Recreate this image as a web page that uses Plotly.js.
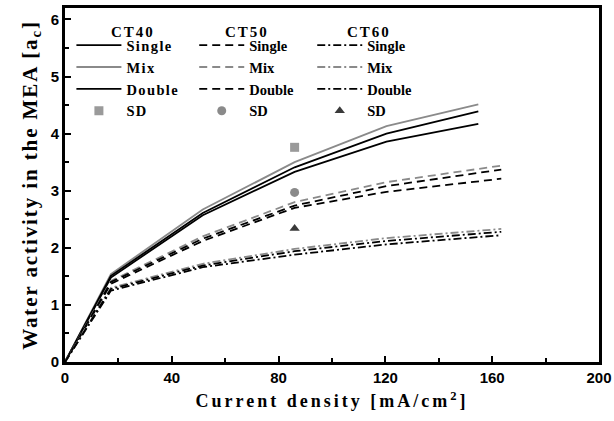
<!DOCTYPE html>
<html>
<head>
<meta charset="utf-8">
<script src="https://cdn.plot.ly/plotly-3.0.1.min.js"></script>
<style>
html, body { margin: 0; padding: 0; background: #fff; }
#chart { width: 614px; height: 421px; }
.xtitle { letter-spacing: 3px; }
.ytitle { letter-spacing: 1.9px; }
.legendtext { letter-spacing: 1.4px; }
.annotation-text { letter-spacing: 2px; }
</style>
</head>
<body>
<div id="chart"></div>
<script>
// Current density [mA/cm2]
var x40 = [0, 17.2, 51.6, 86, 120.4, 154.8];
var x50 = [0, 17.2, 51.6, 86, 120.4, 163.4];
var x60 = [0, 17.2, 51.6, 86, 120.4, 163.4];

// CT40 (solid)
var ct40Single = [0, 1.48, 2.57, 3.33, 3.86, 4.17];
var ct40Mix    = [0, 1.54, 2.67, 3.50, 4.13, 4.51];
var ct40Double = [0, 1.51, 2.61, 3.41, 4.00, 4.39];
// CT50 (dash)
var ct50Single = [0, 1.37, 2.12, 2.70, 2.98, 3.21];
var ct50Mix    = [0, 1.42, 2.20, 2.80, 3.15, 3.44];
var ct50Double = [0, 1.40, 2.16, 2.74, 3.08, 3.37];
// CT60 (dash-dot)
var ct60Single = [0, 1.25, 1.66, 1.88, 2.06, 2.22];
var ct60Mix    = [0, 1.30, 1.72, 1.98, 2.17, 2.33];
var ct60Double = [0, 1.28, 1.69, 1.94, 2.12, 2.28];

// SD points
var sdX = [86];
var sd40 = [3.76];
var sd50 = [2.97];
var sd60 = [2.34];

var headers = ['CT40', 'CT50', 'CT60'];
var xTicks = [0, 40, 80, 120, 160, 200];
var yTicks = [0, 1, 2, 3, 4, 5, 6];

var BLACK = '#000000', GREY = '#8a8a8a';
var DASH = '8px,5px', DASHDOT = '8px,3px,2px,3px';

function line(x, y, name, color, dash, legend) {
  return {x: x, y: y, name: name, mode: 'lines', type: 'scatter', legend: legend,
          line: {color: color, width: 1.8, dash: dash}, hoverinfo: 'skip'};
}
function sd(y, symbol, color, legend) {
  return {x: sdX, y: y, name: 'SD', mode: 'markers', type: 'scatter', legend: legend,
          marker: {symbol: symbol, size: 9, color: color}, hoverinfo: 'skip'};
}

var data = [
  line(x40, ct40Single, 'Single', BLACK, 'solid', 'legend'),
  line(x40, ct40Mix, 'Mix', GREY, 'solid', 'legend'),
  line(x40, ct40Double, 'Double', BLACK, 'solid', 'legend'),
  sd(sd40, 'square', '#9a9a9a', 'legend'),
  line(x50, ct50Single, 'Single', BLACK, DASH, 'legend2'),
  line(x50, ct50Mix, 'Mix', GREY, DASH, 'legend2'),
  line(x50, ct50Double, 'Double', BLACK, DASH, 'legend2'),
  sd(sd50, 'circle', '#8a8a8a', 'legend2'),
  line(x60, ct60Single, 'Single', BLACK, DASHDOT, 'legend3'),
  line(x60, ct60Mix, 'Mix', GREY, DASHDOT, 'legend3'),
  line(x60, ct60Double, 'Double', BLACK, DASHDOT, 'legend3'),
  sd(sd60, 'triangle-up', '#3a3a3a', 'legend3')
];

var legFont = {family: 'Liberation Serif, Times New Roman, serif', size: 14.5, weight: 'bold', color: '#000'};
function leg(x) {
  return {x: x, y: 0.94, xanchor: 'left', yanchor: 'top', bgcolor: 'rgba(0,0,0,0)',
          font: legFont, itemwidth: 45, tracegroupgap: 0, orientation: 'v'};
}

var headerX = [0.127, 0.341, 0.569];
var annotations = headers.map(function (h, i) {
  return {text: h, xref: 'paper', yref: 'paper', x: headerX[i], y: 0.932,
          xanchor: 'center', yanchor: 'middle', showarrow: false,
          font: {family: 'Liberation Serif, Times New Roman, serif', size: 15, weight: 'bold', color: '#000'}};
});

var tickFont = {family: 'Liberation Sans, Arial, sans-serif', size: 15, weight: 'bold', color: '#000'};

var layout = {
  width: 614, height: 421,
  margin: {l: 65, r: 15, t: 8, b: 59},
  paper_bgcolor: '#fff', plot_bgcolor: '#fff',
  showlegend: true,
  legend: leg(0.012),
  legend2: leg(0.242),
  legend3: leg(0.463),
  annotations: annotations,
  xaxis: {
    range: [0, 200], tickvals: xTicks, ticktext: xTicks.map(String),
    showgrid: false, zeroline: false, showline: true, linecolor: '#000', linewidth: 3, mirror: true,
    ticks: 'inside', ticklen: 6, tickwidth: 2, tickcolor: '#000',
    minor: {dtick: 20, tick0: 0, ticks: 'inside', ticklen: 4, tickwidth: 2, tickcolor: '#000', showgrid: false},
    tickfont: tickFont,
    title: {text: 'Current density [mA/cm<sup>2</sup>]', standoff: 10,
            font: {family: 'Liberation Serif, Times New Roman, serif', size: 18, weight: 'bold', color: '#000'}}
  },
  yaxis: {
    range: [0, 6.2], tickvals: yTicks, ticktext: yTicks.map(String),
    showgrid: false, zeroline: false, showline: true, linecolor: '#000', linewidth: 3, mirror: true,
    ticks: 'inside', ticklen: 6, tickwidth: 2, tickcolor: '#000',
    minor: {dtick: 0.5, tick0: 0, ticks: 'inside', ticklen: 4, tickwidth: 2, tickcolor: '#000', showgrid: false},
    tickfont: tickFont,
    title: {text: 'Water activity in the MEA [a<sub>c</sub>]', standoff: 8,
            font: {family: 'Liberation Serif, Times New Roman, serif', size: 21, weight: 'bold', color: '#000'}}
  }
};

Plotly.newPlot('chart', data, layout, {displayModeBar: false, staticPlot: true});
</script>
</body>
</html>
